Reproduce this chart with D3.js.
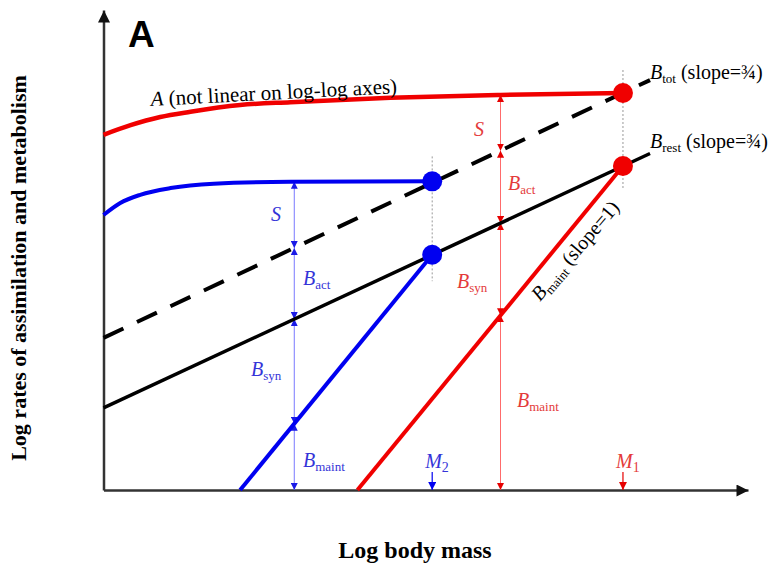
<!DOCTYPE html>
<html>
<head>
<meta charset="utf-8">
<script src="https://cdn.jsdelivr.net/npm/d3@7"></script>
<style>
  html, body { margin: 0; padding: 0; background: #fff; }
  svg { display: block; }
  text { font-family: "Liberation Serif", "Times New Roman", serif; }
</style>
</head>
<body>
<svg id="chart" width="778" height="566"></svg>
<script>
// ---------- data (conceptual log-log units) ----------
const aLargeX = [0, 0.42, 0.88, 1.35, 2.12, 2.90, 4.45, 6.16, 8.06];
const aLargeY = [7.40, 7.60, 7.77, 7.88, 8.02, 8.08, 8.17, 8.23, 8.27];
const aSmallX = [0, 0.26, 0.57, 1.04, 1.71, 2.90, 5.10];
const aSmallY = [5.73, 5.98, 6.15, 6.29, 6.38, 6.42, 6.43];
const bTotX = [0, 8.48];
const bTotY = [3.17, 8.54];
const bRestX = [0, 8.48];
const bRestY = [1.71, 7.01];
const maintSmallX = [2.12, 5.10];
const maintSmallY = [0, 4.90];
const maintLargeX = [3.94, 8.06];
const maintLargeY = [0, 6.75];
const massNames = ["M2", "M1"];
const massX = [5.10, 8.06];
const dotX = [5.10, 5.10, 8.06, 8.06];
const dotY = [6.43, 4.90, 8.27, 6.75];
const dotGroup = ["small", "small", "large", "large"];
const partX = [2.96, 6.16];
const partSmallY = [0, 1.38, 3.56, 5.04, 6.42];
const partLargeY = [0, 3.64, 5.56, 7.07, 8.23];
const partNames = ["maint", "syn", "act", "S"];
const dropTopY = [6.95, 8.75];
const dropBottomY = [4.35, 6.25];

// ---------- setup ----------
const svg = d3.select("#chart");
const x = d3.scaleLinear().domain([0, 10]).range([103.5, 748]);
const y = d3.scaleLinear().domain([0, 10]).range([490, 10]);

const RED = "#f00000", BLUE = "#0000f0";
const RED_THIN = "#ff6b6b", BLUE_THIN = "#7a7aff";
const RED_TXT = "#e43a3a", BLUE_TXT = "#3434d8";
const FS = 20, SUB = 13;

const defs = svg.append("defs");
function marker(id, color, w, h) {
  defs.append("marker")
    .attr("id", id)
    .attr("viewBox", "0 0 10 10")
    .attr("refX", 10).attr("refY", 5)
    .attr("markerUnits", "userSpaceOnUse")
    .attr("markerWidth", w).attr("markerHeight", h)
    .attr("orient", "auto-start-reverse")
    .append("path").attr("d", "M0,0L10,5L0,10z").attr("fill", color);
}
marker("axArrow", "#111", 14, 12);
marker("bArrow", "#1a1ae6", 7, 7);
marker("rArrow", "#e60000", 7, 7);
marker("bArrowM", BLUE, 9, 8);
marker("rArrowM", "#e60000", 9, 8);

// ---------- axes ----------
const xAxis = d3.axisBottom(x).tickValues([]).tickSizeOuter(0);
const yAxis = d3.axisLeft(y).tickValues([]).tickSizeOuter(0);
const gx = svg.append("g").attr("transform", `translate(0,${y(0)})`).call(xAxis);
const gy = svg.append("g").attr("transform", `translate(${x(0)},0)`).call(yAxis);
[gx, gy].forEach(g => g.select(".domain")
  .attr("stroke", "#333").attr("stroke-width", 2.5)
  .attr("marker-end", "url(#axArrow)"));

// ---------- grey dotted drop lines ----------
massX.forEach((m, i) => {
  svg.append("line")
    .attr("x1", x(m)).attr("x2", x(m))
    .attr("y1", y(dropTopY[i])).attr("y2", y(dropBottomY[i]))
    .attr("stroke", "#999").attr("stroke-width", 1)
    .attr("stroke-dasharray", "2,2");
});

// ---------- partition (dimension) lines ----------
function partition(px, ys, color, mk) {
  for (let i = 0; i < ys.length - 1; i++) {
    svg.append("line")
      .attr("x1", x(px)).attr("x2", x(px))
      .attr("y1", y(ys[i])).attr("y2", y(ys[i + 1]))
      .attr("stroke", color).attr("stroke-width", 1)
      .attr("marker-start", `url(#${mk})`)
      .attr("marker-end", `url(#${mk})`);
  }
}
partition(partX[0], partSmallY, BLUE_THIN, "bArrow");
partition(partX[1], partLargeY, RED_THIN, "rArrow");

// ---------- lines ----------
const lineGen = d3.line().x(d => x(d[0])).y(d => y(d[1]));
const curveGen = d3.line().x(d => x(d[0])).y(d => y(d[1])).curve(d3.curveMonotoneX);
const zip = (a, b) => a.map((v, i) => [v, b[i]]);

svg.append("path").attr("d", lineGen(zip(bTotX, bTotY)))
  .attr("fill", "none").attr("stroke", "#000").attr("stroke-width", 4)
  .attr("stroke-dasharray", "22,15");
svg.append("path").attr("d", lineGen(zip(bRestX, bRestY)))
  .attr("fill", "none").attr("stroke", "#000").attr("stroke-width", 3.5);
svg.append("path").attr("d", lineGen(zip(maintSmallX, maintSmallY)))
  .attr("fill", "none").attr("stroke", BLUE).attr("stroke-width", 4);
svg.append("path").attr("d", lineGen(zip(maintLargeX, maintLargeY)))
  .attr("fill", "none").attr("stroke", RED).attr("stroke-width", 4);
svg.append("path").attr("d", curveGen(zip(aSmallX, aSmallY)))
  .attr("fill", "none").attr("stroke", BLUE).attr("stroke-width", 4);
svg.append("path").attr("d", curveGen(zip(aLargeX, aLargeY)))
  .attr("fill", "none").attr("stroke", RED).attr("stroke-width", 4.5);

// ---------- dots ----------
svg.selectAll("circle.dot").data(dotX.map((d, i) => i)).enter()
  .append("circle").attr("class", "dot")
  .attr("cx", i => x(dotX[i])).attr("cy", i => y(dotY[i]))
  .attr("r", 10)
  .attr("fill", i => dotGroup[i] === "small" ? BLUE : RED);

// ---------- mass markers ----------
massX.forEach((m, i) => {
  const col = i === 0 ? BLUE : "#e60000";
  svg.append("line")
    .attr("x1", x(m)).attr("x2", x(m))
    .attr("y1", y(0) - 18).attr("y2", y(0))
    .attr("stroke", col).attr("stroke-width", 1.2)
    .attr("marker-end", `url(#${i === 0 ? "bArrowM" : "rArrowM"})`);
  const t = svg.append("text")
    .attr("x", x(m) - 7).attr("y", y(0) - 22)
    .attr("fill", i === 0 ? BLUE_TXT : RED_TXT)
    .attr("font-size", FS);
  t.append("tspan").attr("font-style", "italic").text(massNames[i][0]);
  t.append("tspan").attr("font-size", SUB + 1).attr("dy", 4).text(massNames[i].slice(1));
});

// ---------- text helpers ----------
function bLabel(px, py, sub, color, rest) {
  const t = svg.append("text").attr("x", px).attr("y", py)
    .attr("fill", color).attr("font-size", FS);
  t.append("tspan").attr("font-style", "italic").text(sub === null ? "S" : "B");
  if (sub !== null) {
    t.append("tspan").attr("font-size", SUB).attr("dy", 4).text(sub);
    if (rest) t.append("tspan").attr("dy", -4).text(rest);
  }
  return t;
}

// blue partition labels
bLabel(271, 221, null, BLUE_TXT);
bLabel(303, 285, "act", BLUE_TXT);
bLabel(251, 376, "syn", BLUE_TXT);
bLabel(303, 467, "maint", BLUE_TXT);
// red partition labels
bLabel(474, 136, null, RED_TXT);
bLabel(508, 190, "act", RED_TXT);
bLabel(457, 288, "syn", RED_TXT);
bLabel(517, 407, "maint", RED_TXT);

// line labels
bLabel(650, 79, "tot", "#000", " (slope=\u00BE)");
bLabel(650, 148, "rest", "#000", " (slope=\u00BE)");
bLabel(0, 0, "maint", "#000", " (slope=1)")
  .attr("transform", "translate(540,302) rotate(-49.5)");

// A label
const aT = svg.append("text").attr("transform", "translate(151,106) rotate(-3)")
  .attr("font-size", 21).attr("fill", "#000");
aT.append("tspan").attr("font-style", "italic").text("A");
aT.append("tspan").text(" (not linear on log-log axes)");

// panel letter
svg.append("text").attr("x", 128).attr("y", 47)
  .style("font-family", "'Liberation Sans', Arial, sans-serif")
  .attr("font-weight", "bold").attr("font-size", 37).text("A");

// axis titles
svg.append("text").attr("x", 415).attr("y", 558)
  .attr("text-anchor", "middle").attr("font-weight", "bold")
  .attr("font-size", 24).text("Log body mass");
svg.append("text").attr("transform", "translate(26,268) rotate(-90)")
  .attr("text-anchor", "middle").attr("font-weight", "bold")
  .attr("font-size", 22).text("Log rates of assimilation and metabolism");
</script>
</body>
</html>
